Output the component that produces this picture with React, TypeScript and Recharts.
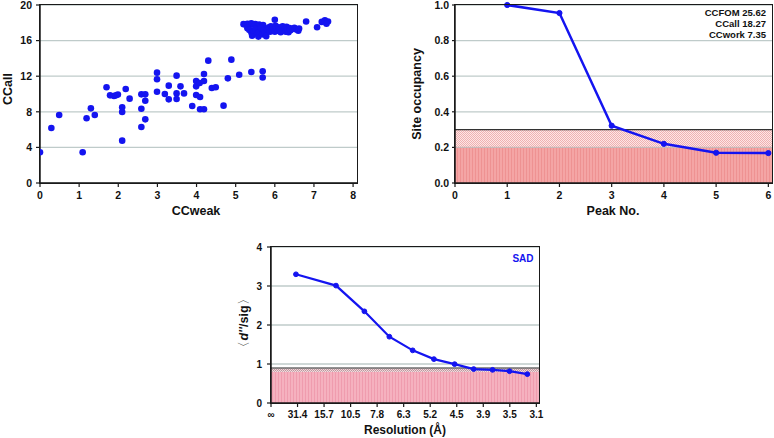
import React from 'react';
import {
  ScatterChart,
  Scatter,
  LineChart,
  Line,
  XAxis,
  YAxis,
  CartesianGrid,
  ReferenceArea,
  ReferenceLine,
} from 'recharts';

const FONT = '"Liberation Sans", Arial, Helvetica, sans-serif';
const BLUE = '#1414f0';
const AXIS = '#1a1a1a';
const GRID = '#bfcbca';

// Panel 1: CCall vs CCweak
const ccWeak = [
  0.0, 0.29, 0.49, 1.09, 1.19, 1.3, 1.4, 1.7, 1.79, 1.89, 1.94, 1.99, 2.1, 2.1, 2.1, 2.19, 2.29, 2.59, 2.59, 2.59,
  2.69, 2.69, 2.69, 2.99, 2.99, 2.99, 3.19, 3.29, 3.29, 3.49, 3.49, 3.49, 3.59, 3.68, 3.89, 3.99, 3.99, 3.99, 4.08,
  4.09, 4.09, 4.19, 4.19, 4.19, 4.3, 4.39, 4.49, 4.69, 4.8, 4.89, 5.09, 5.4, 5.69, 5.69,
  5.2, 5.25, 5.3, 5.35, 5.4, 5.45, 5.5, 5.55, 5.6, 5.65, 5.7, 5.3, 5.35, 5.4, 5.42, 5.45, 5.5, 5.55, 5.58, 5.6,
  5.65, 5.68, 5.72, 5.75, 5.78, 5.8, 5.85, 5.88, 5.9, 5.92, 5.95, 6.0, 6.0, 6.02, 6.05, 6.08, 6.1, 6.12, 6.15,
  6.18, 6.2, 6.22, 6.25, 6.28, 6.3, 6.32, 6.35, 6.38, 6.4, 6.45, 6.5, 6.55, 6.6, 6.62,
  6.8, 7.08, 7.2, 7.28, 7.36, 7.32,
];
const ccAll = [
  3.45, 6.18, 7.64, 3.45, 7.27, 8.39, 7.64, 10.75, 9.85, 9.78, 9.85, 9.93, 8.5, 7.98, 4.76, 10.56, 9.48, 9.96, 8.35,
  6.29, 9.96, 9.25, 7.15, 12.4, 11.65, 10.26, 10.0, 10.94, 9.4, 12.06, 10.07, 9.44, 10.86, 10.07, 8.65, 11.46, 10.86,
  9.89, 11.24, 9.66, 8.28, 11.46, 12.25, 8.28, 13.75, 10.67, 10.75, 8.69, 11.76, 13.86, 12.17, 12.47, 12.55, 11.85,
  17.85, 17.8, 17.9, 17.75, 17.95, 17.8, 17.85, 17.7, 17.8, 17.6, 17.75, 17.4, 17.2, 16.9, 16.55, 17.1, 17.3, 16.8,
  16.45, 17.0, 17.4, 16.7, 17.2, 16.9, 16.5, 17.3, 17.5, 17.0, 17.6, 17.2, 17.45, 18.35, 17.0, 17.65, 17.3, 17.1,
  17.5, 17.25, 16.95, 17.4, 17.6, 17.1, 17.35, 17.0, 17.55, 17.2, 16.95, 17.4, 17.15, 17.3, 17.45, 17.25, 17.1, 17.35,
  18.15, 17.5, 18.1, 18.28, 18.15, 17.9,
];
const ccWeakTicks = [0, 1, 2, 3, 4, 5, 6, 7, 8];
const ccAllTicks = [0, 4, 8, 12, 16, 20];

// Panel 2: site occupancy
const peakNo = [1, 2, 3, 4, 5, 6];
const occupancy = [1.0, 0.955, 0.322, 0.22, 0.17, 0.168];
const peakTicks = [0, 1, 2, 3, 4, 5, 6];
const occTicks = [0, 0.2, 0.4, 0.6, 0.8, 1.0];
const statLines = ['CCFOM 25.62', 'CCall 18.27', 'CCwork 7.35'];

// Panel 3: <d''/sig> vs resolution
const resPos = [0.94, 2.45, 3.52, 4.46, 5.34, 6.14, 6.92, 7.64, 8.35, 8.99, 9.66];
const dSig = [3.3, 3.01, 2.35, 1.7, 1.35, 1.125, 0.996, 0.87, 0.85, 0.815, 0.74];
const resTicks = [0, 1, 2, 3, 4, 5, 6, 7, 8, 9, 10];
const resLabels = ['∞', '31.4', '15.7', '10.5', '7.8', '6.3', '5.2', '4.5', '3.9', '3.5', '3.1'];
const dSigTicks = [0, 1, 2, 3, 4];

const scatterData = ccWeak.map((x, i) => ({ x, y: ccAll[i] }));
const occData = peakNo.map((p, i) => ({ p, v: occupancy[i] }));
const resData = resPos.map((r, i) => ({ r, v: dSig[i] }));

// Layout of the three panels (position, size, margins, axis sizes)
const P1 = { left: 0, top: 0, w: 380, h: 215, m: { top: 5, right: 23, left: 0, bottom: 2 }, yw: 40, xh: 30 };
const P2 = { left: 400, top: 0, w: 374, h: 215, m: { top: 5, right: 2, left: 0, bottom: 2 }, yw: 55, xh: 30 };
const P3 = { left: 200, top: 215, w: 360, h: 223, m: { top: 32, right: 21, left: 0, bottom: 0 }, yw: 71, xh: 35 };

const tickStyle = { fontFamily: FONT, fontSize: 10.5, fontWeight: 700, fill: '#111' };
const axisLine = { stroke: AXIS, strokeWidth: 1.5 };
const tickLine = { stroke: AXIS, strokeWidth: 1.2 };

const titleStyle: React.CSSProperties = {
  fontFamily: FONT,
  fontWeight: 700,
  fill: '#111',
};

const Dot = (props: any) => {
  const { cx, cy } = props;
  if (cx == null || cy == null) return null;
  return <circle cx={cx} cy={cy} r={3.3} fill={BLUE} />;
};

// Plot-area frame as an HTML box placed over each panel's plot region
const FrameBox = ({ p }: { p: typeof P1 }) => (
  <div
    style={{
      position: 'absolute',
      left: p.left + p.m.left + p.yw - 0.75,
      top: p.top + p.m.top - 0.75,
      width: p.w - p.m.left - p.m.right - p.yw,
      height: p.h - p.m.top - p.m.bottom - p.xh,
      border: `1.5px solid ${AXIS}`,
      boxSizing: 'content-box',
      pointerEvents: 'none',
    }}
  />
);

export default function App() {
  return (
    <div
      style={{
        position: 'absolute',
        left: 0,
        top: 0,
        width: 774,
        height: 438,
        background: '#fff',
        overflow: 'hidden',
      }}
    >
      <svg width={0} height={0} style={{ position: 'absolute' }}>
        <defs>
          <pattern id="stripeRed" width={3} height={2} patternUnits="userSpaceOnUse">
            <rect width={3} height={2} fill="#f4a5a5" />
            <rect width={1} height={2} fill="#ee9292" />
          </pattern>
          <pattern id="dotRed" width={2} height={2} patternUnits="userSpaceOnUse">
            <rect width={2} height={2} fill="#fce6e6" />
            <rect width={1} height={1} fill="#f0b0b0" />
            <rect x={1} y={1} width={1} height={1} fill="#f0b0b0" />
          </pattern>
          <pattern id="stripePink" width={3} height={2} patternUnits="userSpaceOnUse">
            <rect width={3} height={2} fill="#f5b1bf" />
            <rect width={1} height={2} fill="#ef9cae" />
          </pattern>
          <pattern id="dotPink" width={2} height={2} patternUnits="userSpaceOnUse">
            <rect width={2} height={2} fill="#f3d3d8" />
            <rect width={1} height={1} fill="#b99aa0" />
            <rect x={1} y={1} width={1} height={1} fill="#b99aa0" />
          </pattern>
        </defs>
      </svg>

      {/* Panel 1 */}
      <div style={{ position: 'absolute', left: P1.left, top: P1.top }}>
        <ScatterChart width={P1.w} height={P1.h} margin={P1.m}>
          <CartesianGrid vertical={false} stroke={GRID} strokeWidth={1.3} />
          <XAxis
            type="number"
            dataKey="x"
            domain={[0, 8.1]}
            ticks={ccWeakTicks}
            allowDataOverflow
            height={P1.xh}
            tick={tickStyle}
            tickSize={4}
            tickMargin={5}
            axisLine={axisLine}
            tickLine={tickLine}
          />
          <YAxis
            type="number"
            dataKey="y"
            domain={[0, 20]}
            ticks={ccAllTicks}
            allowDataOverflow
            width={P1.yw}
            tick={tickStyle}
            tickSize={4}
            tickMargin={4}
            axisLine={axisLine}
            tickLine={tickLine}
          />
          <Scatter data={scatterData} fill={BLUE} shape={Dot} isAnimationActive={false} />
        </ScatterChart>
      </div>

      {/* Panel 2 */}
      <div style={{ position: 'absolute', left: P2.left, top: P2.top }}>
        <LineChart width={P2.w} height={P2.h} data={occData} margin={P2.m}>
          <CartesianGrid vertical={false} stroke={GRID} strokeWidth={1.3} />
          <ReferenceArea y1={0} y2={0.2} fill="url(#stripeRed)" fillOpacity={1} stroke="none" />
          <ReferenceArea y1={0.2} y2={0.3} fill="url(#dotRed)" fillOpacity={1} stroke="none" />
          <ReferenceLine y={0.2} stroke="#c9b8b8" strokeWidth={1.2} />
          <ReferenceLine y={0.3} stroke="#333" strokeWidth={1.3} />
          <XAxis
            type="number"
            dataKey="p"
            domain={[0, 6.07]}
            ticks={peakTicks}
            allowDataOverflow
            height={P2.xh}
            tick={tickStyle}
            tickSize={4}
            tickMargin={5}
            axisLine={axisLine}
            tickLine={tickLine}
          />
          <YAxis
            type="number"
            domain={[0, 1]}
            ticks={occTicks}
            tickFormatter={(v: number) => v.toFixed(1)}
            width={P2.yw}
            tick={tickStyle}
            tickSize={3}
            tickMargin={3}
            axisLine={axisLine}
            tickLine={tickLine}
          />
          <Line
            dataKey="v"
            stroke={BLUE}
            strokeWidth={2.5}
            dot={{ r: 2.6, fill: BLUE, stroke: BLUE, strokeWidth: 1 }}
            isAnimationActive={false}
          />
        </LineChart>
      </div>

      {/* Panel 3 */}
      <div style={{ position: 'absolute', left: P3.left, top: P3.top }}>
        <LineChart width={P3.w} height={P3.h} data={resData} margin={P3.m}>
          <CartesianGrid vertical={false} stroke={GRID} strokeWidth={1.3} />
          <ReferenceArea y1={0} y2={0.8} fill="url(#stripePink)" fillOpacity={1} stroke="none" />
          <ReferenceArea y1={0.8} y2={0.9} fill="url(#dotPink)" fillOpacity={1} stroke="none" />
          <ReferenceLine y={0.9} stroke="#6e6e6e" strokeWidth={1.5} />
          <XAxis
            type="number"
            dataKey="r"
            domain={[0, 10.1]}
            ticks={resTicks}
            tickFormatter={(v: number) => resLabels[v] ?? ''}
            allowDataOverflow
            height={P3.xh}
            tick={{ ...tickStyle, fontSize: 10 }}
            tickSize={4}
            tickMargin={4}
            axisLine={axisLine}
            tickLine={tickLine}
          />
          <YAxis
            type="number"
            domain={[0, 4]}
            ticks={dSigTicks}
            width={P3.yw}
            tick={{ ...tickStyle, fontSize: 10 }}
            tickSize={4}
            tickMargin={5}
            axisLine={axisLine}
            tickLine={tickLine}
          />
          <Line
            dataKey="v"
            stroke={BLUE}
            strokeWidth={2.2}
            dot={{ r: 2.4, fill: BLUE, stroke: BLUE, strokeWidth: 1 }}
            isAnimationActive={false}
          />
        </LineChart>
      </div>

      <FrameBox p={P1} />
      <FrameBox p={P2} />
      <FrameBox p={P3} />

      {/* Titles and annotations */}
      <svg
        width={774}
        height={438}
        style={{ position: 'absolute', left: 0, top: 0, pointerEvents: 'none' }}
      >
        <text
          style={titleStyle}
          fontSize={12.5}
          textAnchor="middle"
          dominantBaseline="central"
          transform="translate(8,89) rotate(-90)"
        >
          CCall
        </text>
        <text style={titleStyle} fontSize={12.5} textAnchor="middle" dominantBaseline="central" x={196} y={211}>
          CCweak
        </text>
        <text
          style={titleStyle}
          fontSize={12.5}
          textAnchor="middle"
          dominantBaseline="central"
          transform="translate(417,94) rotate(-90)"
        >
          Site occupancy
        </text>
        <text style={titleStyle} fontSize={12.5} textAnchor="middle" dominantBaseline="central" x={613} y={211}>
          Peak No.
        </text>
        {statLines.map((s, i) => (
          <text
            key={s}
            style={titleStyle}
            fontSize={9.5}
            textAnchor="end"
            dominantBaseline="central"
            x={766}
            y={12.3 + i * 11.2}
          >
            {s}
          </text>
        ))}
        <text
          style={titleStyle}
          fontSize={12.5}
          textAnchor="middle"
          dominantBaseline="central"
          transform="translate(244,323) rotate(-90)"
        >
          <tspan fontWeight={400}>〈</tspan>
          <tspan fontStyle="italic">d''</tspan>
          <tspan>/sig</tspan>
          <tspan fontWeight={400}>〉</tspan>
        </text>
        <text style={titleStyle} fontSize={12} textAnchor="middle" dominantBaseline="central" x={405} y={430}>
          Resolution (Å)
        </text>
        <text
          style={{ ...titleStyle, fill: BLUE }}
          fontSize={10}
          textAnchor="middle"
          dominantBaseline="central"
          x={523}
          y={258}
        >
          SAD
        </text>
      </svg>
    </div>
  );
}
